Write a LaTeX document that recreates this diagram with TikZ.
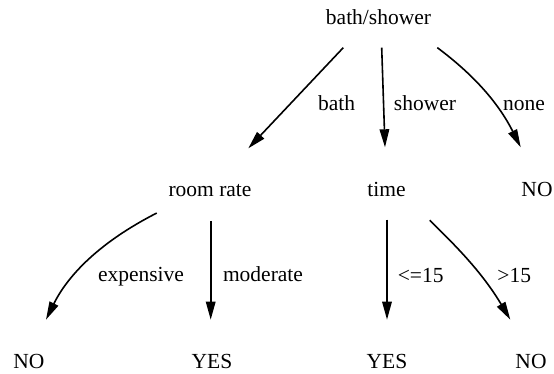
\documentclass[tikz,border=0pt]{standalone}
\usepackage{fontspec}
\setmainfont{Liberation Serif}
\usetikzlibrary{arrows.meta,calc}
\tikzset{
  lbl/.style={anchor=base,inner sep=0pt,font=\fontsize{21.5}{24}\selectfont},
  edge/.style={line width=1.6pt,-{Triangle[length=18pt,width=9.5pt]}}
}
\begin{document}
\begin{tikzpicture}[x=1pt,y=-1pt]
\fill[white] (0,0) rectangle (554,373);
\useasboundingbox (0,0) rectangle (554,373);
% nodes
\node[lbl] (root) at (378.5,24.5) {bath/shower};
\node[lbl] (rr) at (210,196.5) {room rate};
\node[lbl] (tm) at (386.5,196.5) {time};
\node[lbl] (noA) at (537,196.5) {NO};
\node[lbl] (noB) at (29,368) {NO};
\node[lbl] (yesA) at (212,368) {YES};
\node[lbl] (yesB) at (387,368) {YES};
\node[lbl] (noC) at (531,368) {NO};
% edge labels
\node[lbl] (lbath) at (336.7,110) {bath};
\node[lbl] (lshower) at (425,110) {shower};
\node[lbl] (lnone) at (524,110) {none};
\node[lbl] (lexp) at (141,281.5) {expensive};
\node[lbl] (lmod) at (263,281.5) {moderate};
\node[lbl] (lle) at (420.7,282) {<=15};
\node[lbl] (lgt) at (514.3,282) {>15};
% edges
\draw[edge] ($(root)+(-35.2,30.5)$) -- ($(rr)+(38.3,-42.2)$);
\draw[edge] ($(root)+(3.2,30.5)$) -- ($(tm)+(-1.5,-42.2)$);
\draw[edge] ($(root)+(58.8,30.5)$) .. controls (470,72) and (497,100) .. ($(noA)+(-16.3,-42.2)$);
\draw[edge] ($(rr)+(-53.3,22.5)$) .. controls (100,242) and (68,275) .. ($(noB)+(17,-41.3)$);
\draw[edge] ($(rr)+(0.7,30.2)$) -- ($(yesA)+(-1.3,-41.3)$);
\draw[edge] ($(tm)+(0.5,30.2)$) -- ($(yesB)+(0,-41.3)$);
\draw[edge] ($(tm)+(43.2,30.8)$) .. controls (455,245) and (482,272) .. ($(noC)+(-20.7,-41.3)$);
\end{tikzpicture}
\end{document}
